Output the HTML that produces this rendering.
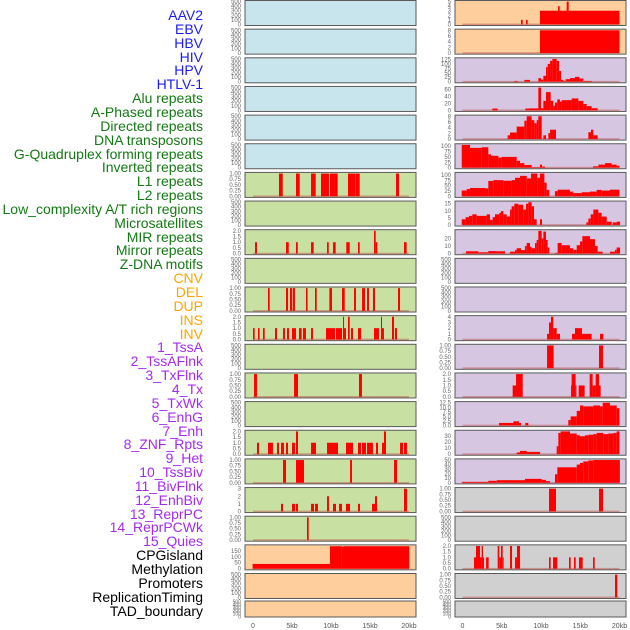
<!DOCTYPE html>
<html><head><meta charset="utf-8">
<style>
html,body{margin:0;padding:0;background:#fff;}
#wrap{position:relative;width:630px;height:630px;overflow:hidden;font-family:"Liberation Sans",sans-serif;}
.lab{position:absolute;right:427px;font-size:14px;line-height:14px;white-space:nowrap;text-align:right;}
</style></head>
<body>
<div id="wrap">
<svg id="chart" width="630" height="630" style="position:absolute;left:0;top:0"></svg>
</div>
<script>
// ---- labels ----
const labelNames = ["AAV2","EBV","HBV","HIV","HPV","HTLV-1","Alu repeats","A-Phased repeats","Directed repeats","DNA transposons","G-Quadruplex forming repeats","Inverted repeats","L1 repeats","L2 repeats","Low_complexity A/T rich regions","Microsatellites","MIR repeats","Mirror repeats","Z-DNA motifs","CNV","DEL","DUP","INS","INV","1_TssA","2_TssAFlnk","3_TxFlnk","4_Tx","5_TxWk","6_EnhG","7_Enh","8_ZNF_Rpts","9_Het","10_TssBiv","11_BivFlnk","12_EnhBiv","13_ReprPC","14_ReprPCWk","15_Quies","CPGisland","Methylation","Promoters","ReplicationTiming","TAD_boundary"];
const labelColors = ["#1a1aff","#1a1aff","#1a1aff","#1a1aff","#1a1aff","#1a1aff","#137a13","#137a13","#137a13","#137a13","#137a13","#137a13","#137a13","#137a13","#137a13","#137a13","#137a13","#137a13","#137a13","#ffa500","#ffa500","#ffa500","#ffa500","#ffa500","#a52af0","#a52af0","#a52af0","#a52af0","#a52af0","#a52af0","#a52af0","#a52af0","#a52af0","#a52af0","#a52af0","#a52af0","#a52af0","#a52af0","#a52af0","#000","#000","#000","#000","#000"];

// ---- x axis ----
const xTickValues = [0,5,10,15,20];
const xTickLabels = ["0","5kb","10kb","15kb","20kb"];

// ---- tick sets ----
const ticksEmpty = [0,100,200,300,400,500];
const ticksBinary = [0,0.25,0.5,0.75,1];
const ticksTwo = [0,0.5,1,1.5,2];

// ---- series data: [startKb, endKb, value] ----
const segL6 = [[3.33,3.81,1],[5.51,5.99,1],[7.44,8.04,1],[8.72,9.74,1],[9.87,10.86,1],[12.18,13.08,1],[13.11,13.68,1],[18.33,18.72,1]];
const segL8 = [[0.26,0.51,1],[4.23,4.58,1],[5.51,5.74,1],[7.44,7.78,1],[9.49,9.71,1],[10.26,10.6,1],[11.96,12.4,1],[13.46,13.68,1],[15.51,15.73,2],[15.73,15.94,1],[19.36,19.7,1]];
const segL10 = [[1.92,2.14,1],[4.23,4.49,1],[4.74,5.04,1],[5.13,5.38,1],[6.79,7.0,1],[7.95,8.17,1],[9.79,10.13,1],[11.41,11.76,1],[12.95,13.2,1],[13.98,14.36,1],[14.62,14.87,1],[15.38,15.64,1],[18.59,18.85,1]];
const segL11 = [[0.0,0.21,1],[0.64,0.85,1],[1.28,1.5,1],[2.82,3.08,1],[3.85,4.1,1],[4.36,4.62,1],[5.0,5.51,1],[5.9,6.24,1],[6.41,6.79,1],[7.44,7.69,1],[9.36,10.51,1],[10.64,11.41,1],[11.54,11.67,2],[11.67,11.92,1],[12.18,12.4,2],[12.56,12.82,1],[13.46,13.85,1],[15.51,16.15,1],[16.41,16.54,2],[16.54,16.79,1],[17.82,18.08,2],[18.2,18.46,1]];
const segL13 = [[0.13,0.51,1],[5.26,5.77,1],[13.59,13.97,1]];
const segL15 = [[0.51,0.77,1],[1.92,2.56,1],[3.08,3.33,1],[3.59,3.97,1],[4.23,4.49,1],[5.0,5.38,1],[5.51,5.77,2],[7.44,8.08,1],[9.49,10.9,1],[11.92,12.82,1],[13.46,13.85,1],[13.97,14.49,1],[14.62,15.38,1],[15.77,16.03,1],[16.54,16.79,1],[16.79,17.05,2],[18.85,19.23,1],[19.36,19.74,1]];
const segL16 = [[3.85,4.23,1],[5.51,6.54,1],[12.44,12.69,1],[18.08,18.46,1]];
const segL17 = [[3.59,3.85,1],[5.0,5.38,1],[5.51,5.77,1],[7.44,7.82,1],[7.95,8.33,1],[9.49,9.74,2],[10.26,10.64,1],[11.03,11.41,1],[11.92,12.44,1],[13.46,13.72,1],[15.26,15.64,1],[15.64,15.9,2],[19.36,19.74,3]];
const segL18 = [[6.92,7.14,1]];
const segL19 = [[-0.05,9.87,40],[9.87,11.4,188],[11.4,11.6,183],[11.6,20.04,188]];

const segR0 = [[7.45,7.67,1],[8.09,8.3,1],[9.87,20.0,3],[12.17,12.38,4],[13.27,13.53,5]];
const segR1 = [[9.87,20.0,8]];
const segR2 = [[6.6,7.03,4],[7.88,8.6,10],[9.66,10.0,20],[10.0,10.3,12],[10.3,10.64,33],[10.64,10.85,82],[10.85,11.15,100],[11.15,11.45,117],[11.45,12.0,128],[12.0,12.3,117],[12.3,12.55,60],[12.55,12.85,10],[12.85,13.14,4],[13.14,13.69,14],[13.69,14.33,20],[14.33,14.89,27],[14.89,15.39,18],[15.39,16.45,4]];
const segR3 = [[3.8,4.48,5],[8.0,8.47,5],[8.47,9.66,5.5],[9.66,10.0,65],[10.0,10.3,6],[10.3,10.64,27],[10.64,11.23,52],[11.23,11.57,27],[11.57,11.78,13],[11.78,12.08,22],[12.08,12.42,31],[12.42,12.63,25],[12.63,13.9,29],[13.9,14.76,34],[14.76,15.39,27],[15.39,15.82,18],[15.82,16.45,12],[16.45,17.22,6]];
const segR4 = [[5.75,6.05,1.3],[6.05,6.9,2.3],[6.9,7.88,4.4],[7.88,8.18,6.5],[8.18,8.81,8.1],[8.81,9.15,6.7],[9.15,9.45,5.6],[9.45,9.66,6.7],[9.66,10.09,8.1],[10.3,10.64,1.3],[10.94,11.15,2.1],[11.15,11.91,3.3],[16.03,16.37,2.4],[16.37,16.67,3.3],[16.67,17.22,1.3]];
const segR5 = [[-0.1,0.96,106],[0.96,2.44,92],[2.44,3.29,95],[3.29,3.63,62],[3.63,4.57,55],[4.57,4.99,47],[4.99,6.9,50],[6.9,7.33,32],[7.33,7.88,21],[7.88,8.81,12],[8.81,9.87,2],[9.87,10.13,14],[10.13,10.51,5],[16.63,17.31,6],[17.31,18.16,14],[18.16,19.0,21],[19.0,19.64,14],[19.64,20.0,9]];
const segR6 = [[-0.1,0.53,27],[0.53,0.96,34],[0.96,2.87,39],[2.87,3.29,37],[3.29,3.93,72],[3.93,5.2,76],[5.2,6.26,73],[6.26,6.69,76],[6.69,7.33,87],[7.33,8.18,96],[8.18,8.73,84],[8.73,9.53,107],[9.53,9.87,87],[9.87,10.43,107],[10.43,10.72,64],[10.72,11.06,30],[11.78,12.12,24],[12.12,13.69,31],[13.69,14.12,22],[14.12,15.18,15],[15.18,16.24,19],[16.24,17.09,22],[17.09,17.73,30],[17.73,18.79,27],[18.79,20.0,31]];
const segR7 = [[-0.1,0.4,4],[0.4,0.83,5.5],[0.83,1.25,6.4],[1.25,1.8,7.5],[1.8,3.08,6.4],[3.08,3.5,7.5],[3.5,3.84,3.6],[3.84,4.14,5.5],[4.14,4.69,7.5],[4.69,4.9,8.6],[4.9,5.2,9.8],[5.2,5.63,7.5],[5.63,6.05,5.9],[6.05,6.26,10.9],[6.26,6.6,13.2],[6.6,7.11,15],[7.11,7.75,14.3],[7.75,8.09,10.9],[8.09,8.39,15],[8.39,8.81,16.1],[8.81,9.11,13.2],[9.11,9.45,4],[9.87,10.13,4],[15.78,16.03,1.8],[16.03,16.33,4.5],[16.33,16.67,7.5],[16.67,17.31,10.9],[17.31,17.73,8.6],[17.73,18.37,5.9],[18.37,19.0,2.3],[19.13,19.64,1.8],[19.64,20.07,2.3]];
const segR8 = [[0.45,2.02,3],[2.02,3.29,1.7],[3.29,4.36,3.3],[4.36,5.41,3],[6.05,6.69,2.5],[6.69,6.9,4.6],[6.9,7.45,7],[7.45,7.96,4.6],[7.96,8.18,10],[8.18,8.6,14],[8.6,8.81,9],[8.81,9.24,7],[9.24,9.45,14],[9.45,9.66,18],[9.66,10.09,30],[10.09,10.3,20],[10.3,10.64,29],[10.64,10.85,18],[10.85,11.06,8],[11.78,12.12,1],[12.12,12.63,14],[12.63,13.06,11],[13.06,13.69,11],[13.69,14.12,7],[14.12,14.55,5],[14.55,14.97,11],[14.97,15.27,16],[15.27,16.24,23],[16.24,16.88,19],[16.88,17.22,10],[17.22,17.86,2.5],[18.79,19.43,2.5],[19.43,19.64,5],[19.64,20.07,8]];
const segR11 = [[10.77,11.02,1],[11.02,11.27,3],[11.27,11.57,4],[11.57,12.0,2],[12.0,12.42,1],[13.95,14.33,1],[14.33,15.22,2],[15.22,16.45,1],[17.52,17.94,1]];
const segR12 = [[10.77,11.61,1],[17.39,17.9,1]];
const segR13 = [[6.39,6.82,1],[6.82,7.67,2],[13.82,13.9,1],[13.9,14.41,2],[14.41,14.5,1],[14.8,15.56,1],[16.2,16.58,2],[16.58,16.96,1],[16.96,17.39,2],[17.39,17.6,1]];
const segR14 = [[4.65,6.48,1.4],[6.48,7.2,2.3],[7.2,7.45,1.4],[8.0,8.39,1.4],[13.48,13.78,3],[13.78,14.55,5],[14.55,14.97,8],[14.97,15.39,11],[15.39,16.67,10.5],[16.67,17.52,11],[17.52,17.86,10.5],[17.86,18.79,12.5],[18.79,19.64,11],[19.64,20.0,9.5]];
const segR15 = [[6.9,7.33,2.7],[7.33,8.18,5.3],[8.18,9.87,3.7],[12.0,12.21,13],[12.21,12.5,35],[12.5,13.69,37.5],[13.69,14.55,34],[14.55,14.97,31],[14.97,15.6,29.5],[15.6,16.03,31],[16.03,16.67,32],[16.67,17.09,33],[17.09,17.94,35],[17.94,18.58,33],[18.58,19.22,34],[19.22,19.64,35],[19.64,20.0,37.5]];
const segR16 = [[-0.1,3.29,2],[3.29,4.36,4.3],[4.36,7.96,5.7],[7.96,10.09,8.6],[10.09,10.64,6.4],[10.64,11.15,3.6],[11.78,12.08,18.6],[12.08,14.55,34],[14.55,14.97,40],[14.97,15.39,43.6],[15.39,16.03,47],[16.03,16.67,49],[16.67,20.05,50]];
const segR17 = [[11.02,11.91,1],[17.39,17.9,1]];
const segR19 = [[1.46,1.72,1],[1.72,2.23,2],[2.23,2.44,1],[2.44,2.61,2],[2.61,2.74,1],[3.0,3.33,1],[4.48,4.69,2],[4.69,4.9,1],[4.9,5.12,2],[5.12,5.24,1],[6.05,6.31,2],[6.69,6.94,1],[6.94,7.33,2],[11.02,11.23,1],[11.53,12.08,1],[13.57,13.78,1],[14.2,14.42,1],[14.84,15.31,1],[16.63,16.84,1]];
const segR20 = [[19.43,19.72,1]];

const BLUE="#c8e4ec", GREEN="#c8e1a3", ORANGE="#fecf9d", PURPLE="#d6c6e2", GREY="#d0d0d0";
function tk(a,d){return a.map(v=>v.toFixed(d));}
const leftPanels = [
 {c:BLUE},{c:BLUE},{c:BLUE},{c:BLUE},{c:BLUE},{c:BLUE},
 {c:GREEN,s:segL6,t:ticksBinary,d:2,m:1},
 {c:GREEN},
 {c:GREEN,s:segL8,t:ticksTwo,d:1,m:2},
 {c:GREEN},
 {c:GREEN,s:segL10,t:ticksBinary,d:2,m:1},
 {c:GREEN,s:segL11,t:ticksTwo,d:1,m:2},
 {c:GREEN},
 {c:GREEN,s:segL13,t:ticksBinary,d:2,m:1},
 {c:GREEN},
 {c:GREEN,s:segL15,t:ticksTwo,d:1,m:2},
 {c:GREEN,s:segL16,t:ticksBinary,d:2,m:1},
 {c:GREEN,s:segL17,t:[0,1,2,3],d:0,m:3},
 {c:GREEN,s:segL18,t:ticksBinary,d:2,m:1},
 {c:ORANGE,s:segL19,t:[0,50,100,150],d:0,m:190},
 {c:ORANGE},{c:ORANGE}
];
const rightPanels = [
 {c:ORANGE,s:segR0,t:[0,1,2,3,4,5],d:0,m:5},
 {c:ORANGE,s:segR1,t:[0,2,4,6,8],d:0,m:8},
 {c:PURPLE,s:segR2,t:[0,25,50,75,100,125],d:0,m:128},
 {c:PURPLE,s:segR3,t:[0,20,40,60],d:0,m:65},
 {c:PURPLE,s:segR4,t:[0,2,4,6,8],d:0,m:8.1},
 {c:PURPLE,s:segR5,t:[0,25,50,75,100],d:0,m:106},
 {c:PURPLE,s:segR6,t:[0,25,50,75,100],d:0,m:107},
 {c:PURPLE,s:segR7,t:[0,5,10,15],d:0,m:16.1},
 {c:PURPLE,s:segR8,t:[0,10,20],d:0,m:30},
 {c:PURPLE},{c:PURPLE},
 {c:PURPLE,s:segR11,t:[0,1,2,3,4],d:0,m:4},
 {c:PURPLE,s:segR12,t:ticksBinary,d:2,m:1},
 {c:PURPLE,s:segR13,t:ticksTwo,d:1,m:2},
 {c:PURPLE,s:segR14,t:[0,2.5,5,7.5,10,12.5],d:1,m:12.5},
 {c:PURPLE,s:segR15,t:[0,10,20,30],d:0,m:37.5},
 {c:PURPLE,s:segR16,t:[0,10,20,30,40,50],d:0,m:50},
 {c:GREY,s:segR17,t:ticksBinary,d:2,m:1},
 {c:GREY},
 {c:GREY,s:segR19,t:ticksTwo,d:1,m:2},
 {c:GREY,s:segR20,t:ticksBinary,d:2,m:1},
 {c:GREY}
];

const NS="http://www.w3.org/2000/svg";
const svg=document.getElementById('chart');
function mk(tag,attrs,parent){const e=document.createElementNS(NS,tag);for(const k in attrs)e.setAttribute(k,attrs[k]);(parent||svg).appendChild(e);return e;}

function rowTop(i){return i<21?0.5+28.65*i:601;}
function rowH(i){return i<21?25:16;}

function drawColumn(panels,colX0,colX1,x0,x1,side){
  const xs=v=>x0+(x1-x0)*v/20;
  panels.forEach((p,i)=>{
    const top=rowTop(i),h=rowH(i);
    const g=mk('g',{});
    
    
    const bg=mk('rect',{x:colX0,y:top,width:colX1-colX0,height:h,fill:p.c,stroke:'#5a5a5a','stroke-width':1},g);
    
    
    const ticks=p.t||ticksEmpty, M=p.m||500, dec=p.d||0;
    const ys=v=>top+h-(v+0.05*M)/(1.1*M)*h;
    if(p.s){
      const base=mk('rect',{x:xs(0),y:ys(0)-0.8,width:xs(20)-xs(0),height:1.6,fill:'#c0605a',opacity:0.55},g);
      
      
      p.s.forEach(s=>{
        const v=Math.min(s[2],M*1.05);
        const b=mk('rect',{x:xs(s[0]),y:ys(v),width:Math.max(0.8,xs(s[1])-xs(s[0])),height:ys(0)-ys(v),fill:'#ff0000'},g);
        
        
      });
    }
    ticks.forEach(v=>{
      const t=mk('text',{x:colX0-4,y:ys(v)+2,'font-size':h<20?5:6,'text-anchor':'end',fill:'#666','font-family':'Liberation Sans, sans-serif'},g);
      t.textContent=p.t?v.toFixed(dec):String(v);
      
      
    });
  });
  xTickValues.forEach((v,k)=>{
    const t=mk('text',{x:xs(v),y:628,'font-size':7,'text-anchor':'middle',fill:'#555','font-family':'Liberation Sans, sans-serif'});
    t.textContent=xTickLabels[k];
    
    
  });
}
drawColumn(leftPanels,245,416,253,409,'left');
drawColumn(rightPanels,455,626,462.5,619.5,'right');

const wrap=document.getElementById('wrap');
labelNames.forEach((n,i)=>{
  const d=document.createElement('div');
  d.className='lab';
  d.style.top=(8+13.85*i)+'px';
  d.style.color=labelColors[i];
  d.textContent=n;
  
  
  wrap.appendChild(d);
});
</script>
</body></html>
